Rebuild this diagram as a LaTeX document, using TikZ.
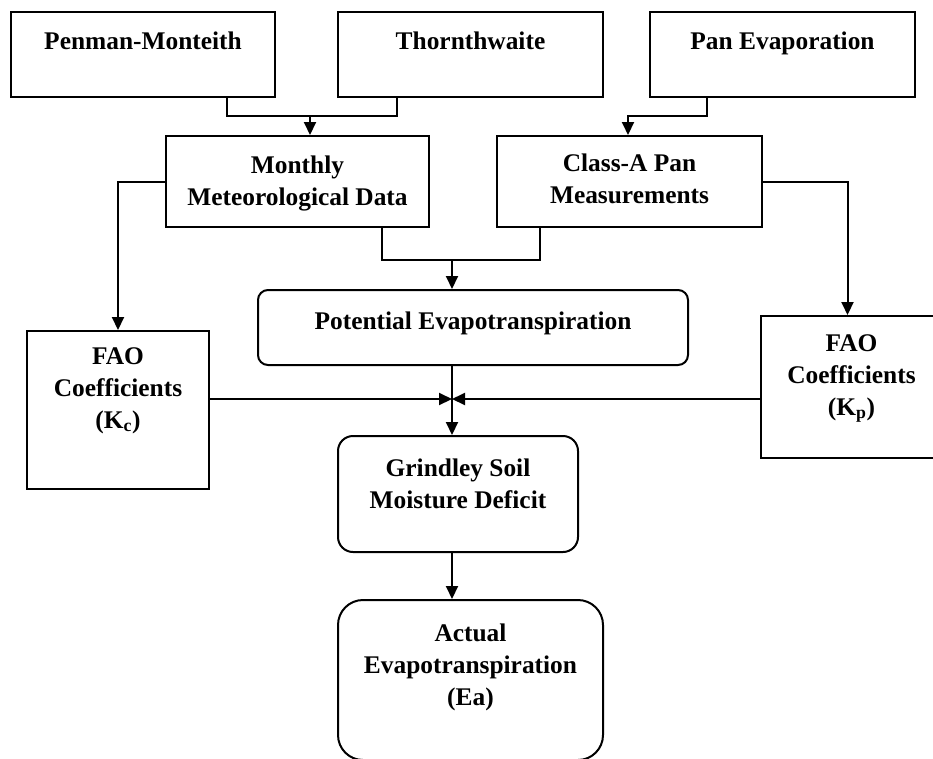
\documentclass[tikz,border=0pt]{standalone}
\usepackage{fontspec}
\setmainfont{Liberation Serif}
\usetikzlibrary{arrows.meta,positioning}

\begin{document}
\begin{tikzpicture}[x=1pt, y=-1pt,
    box/.style={draw, line width=2pt, inner sep=0pt},
    rbox/.style={box, rounded corners=#1},
    lbl/.style={font=\bfseries\fontsize{25.4}{32}\selectfont, align=center,
      inner sep=0pt},
    line/.style={line width=2pt},
    arr/.style={line, -{Triangle[length=13pt, width=12pt]}},
  ]
  \useasboundingbox (0,0) rectangle (933,758);

  % --- methods (top row) ---
  \node[box, minimum width=264, minimum height=85] (pm) at (143,54.5) {};
  \node[lbl, below=21pt of pm.north] (pmt) {Penman-Monteith};
  \node[box, minimum width=265, minimum height=85] (th) at (470.5,54.5) {};
  \node[lbl, below=21pt of th.north] (tht) {Thornthwaite};
  \node[box, minimum width=265, minimum height=85] (pv) at (782.5,54.5) {};
  \node[lbl, below=21pt of pv.north] (pvt) {Pan Evaporation};

  % --- data ---
  \node[box, minimum width=263, minimum height=91] (mm) at (297.5,181.5) {};
  \node[lbl, below=21pt of mm.north] (mmt) {Monthly\\Meteorological Data};
  \node[box, minimum width=265, minimum height=91] (ca) at (629.5,181.5) {};
  \node[lbl, below=19pt of ca.north] (cat) {Class-A Pan\\Measurements};

  % --- potential ET and coefficients ---
  \node[rbox=10pt, minimum width=430, minimum height=75] (pet) at (473,327.5) {};
  \node[lbl, below=23pt of pet.north] (pett) {Potential Evapotranspiration};
  \node[box, minimum width=182, minimum height=158] (kc) at (118,410) {};
  \node[lbl, below=17pt of kc.north] (kct) {FAO\\Coefficients\\(K\textsubscript{c})};
  \node[box, minimum width=173, minimum height=142] (kp) at (847.5,387) {};
  \node[lbl, below=19pt of kp.north, xshift=4pt] (kpt) {FAO\\Coefficients\\(K\textsubscript{p})};

  % --- soil moisture and actual ET ---
  \node[rbox=15pt, minimum width=240, minimum height=116] (gr) at (458,494) {};
  \node[lbl, below=24pt of gr.north] (grt) {Grindley Soil\\Moisture Deficit};
  \node[rbox=25pt, minimum width=265, minimum height=160] (ac) at (470.5,680) {};
  \node[lbl, below=25pt of ac.north] (act) {Actual\\Evapotranspiration\\(Ea)};

  % junctions
  \coordinate (j1) at (310,116);
  \coordinate (j2) at (628,116);
  \coordinate (j3) at (452,260);
  \coordinate (j4) at (452,399);

  % connectors
  \draw[line] ([xshift=84pt]pm.south) |- (j1) -| ([xshift=-73.5pt]th.south);
  \draw[arr] (j1) -- (j1 |- mm.north);
  \draw[arr] ([xshift=-75.5pt]pv.south) |- (j2) -- (j2 |- ca.north);
  \draw[arr] (mm.west) -| (kc.north);
  \draw[arr] (ca.east) -| (kp.north);
  \draw[line] ([xshift=84.5pt]mm.south) |- (j3) -| ([xshift=-89.5pt]ca.south);
  \draw[arr] (j3) -- (j3 |- pet.north);
  \draw[arr] (j3 |- pet.south) -- (j3 |- gr.north);
  \draw[arr] (kc.east |- j4) -- (j4);
  \draw[arr] (kp.west |- j4) -- (j4);
  \draw[arr] (gr.south -| j4) -- (ac.north -| j4);

\end{tikzpicture}
\end{document}
